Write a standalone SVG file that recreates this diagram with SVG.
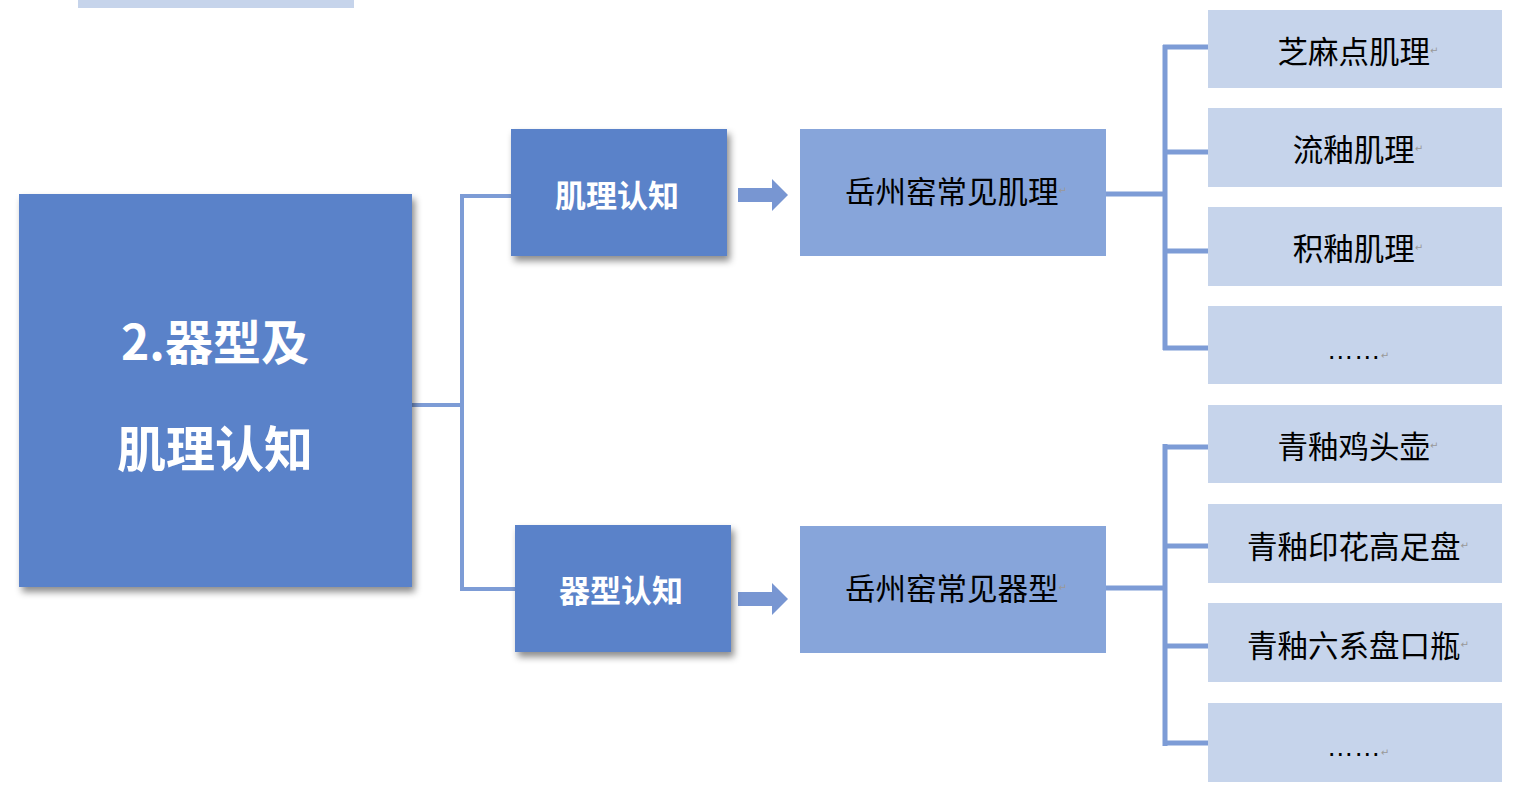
<svg xmlns="http://www.w3.org/2000/svg" width="1516" height="809" viewBox="0 0 1516 809">
<defs>
<filter id="sh" x="-10%" y="-10%" width="125%" height="130%">
<feDropShadow dx="3" dy="5" stdDeviation="3.5" flood-color="#000" flood-opacity="0.45"/>
</filter>
<style>
.main{fill:#5a82c9;}
.mid{fill:#87a5da;}
.leaf{fill:#c6d4eb;}
.conn{fill:none;stroke:#7d9cd6;stroke-width:4;}
.connR{fill:none;stroke:#7d9cd6;stroke-width:5;}
.arrow{fill:#7896d2;}
.wt{font-family:"Noto Sans CJK SC","Noto Sans",sans-serif;font-weight:bold;fill:#fff;text-anchor:middle;dominant-baseline:central;}
.bt{font-family:"Noto Sans CJK SC","Noto Sans",sans-serif;font-size:30.5px;fill:#000;text-anchor:middle;dominant-baseline:central;}
.dots{font-family:"Liberation Sans",sans-serif;font-size:27px;fill:#000;text-anchor:middle;}
.rm{font-family:"DejaVu Sans",sans-serif;font-size:10px;fill:#999;font-weight:normal;}
</style>
</defs>
<rect x="0" y="0" width="1516" height="809" fill="#fff"/>
<rect x="78" y="0" width="276" height="8" class="leaf"/>

<g id="connectors">
<path class="conn" d="M412 405 H462 M462 196 V590 M460 196 H512 M460 589 H516"/>
<path class="connR" d="M1106 194 H1165 M1165 45 V350 M1163 47 H1209 M1163 152 H1209 M1163 251 H1209 M1163 348 H1209"/>
<path class="connR" d="M1106 588 H1165 M1165 444 V746 M1163 447 H1209 M1163 546 H1209 M1163 646 H1209 M1163 743 H1209"/>
<path class="arrow" d="M738 188 H772 V179 L788 195 L772 211 V202 H738 Z"/>
<path class="arrow" d="M738 592 H772 V583 L788 599 L772 615 V606 H738 Z"/>
</g>

<g id="root">
<rect x="19" y="194" width="393" height="393" class="main" filter="url(#sh)"/>
<text class="wt" x="215" y="339" font-size="48">2.器型及</text>
<text class="wt" x="215" y="445" font-size="49">肌理认知</text>
</g>

<g id="n-jili">
<rect x="511" y="129" width="216" height="127" class="main" filter="url(#sh)"/>
<text class="wt" x="617" y="193" font-size="31">肌理认知</text>
</g>
<g id="n-qixing">
<rect x="515" y="525" width="216" height="127" class="main" filter="url(#sh)"/>
<text class="wt" x="621" y="588" font-size="31">器型认知</text>
</g>

<g id="n-yz-jili">
<rect x="800" y="129" width="306" height="127" class="mid"/>
<text class="bt" x="956" y="190">岳州窑常见肌理<tspan class="rm">↵</tspan></text>
</g>
<g id="n-yz-qixing">
<rect x="800" y="526" width="306" height="127" class="mid"/>
<text class="bt" x="956" y="587">岳州窑常见器型<tspan class="rm">↵</tspan></text>
</g>

<g id="l1"><rect x="1208" y="10" width="294" height="78" class="leaf"/><text class="bt" x="1358" y="50">芝麻点肌理<tspan class="rm">↵</tspan></text></g>
<g id="l2"><rect x="1208" y="108" width="294" height="79" class="leaf"/><text class="bt" x="1358" y="148">流釉肌理<tspan class="rm">↵</tspan></text></g>
<g id="l3"><rect x="1208" y="207" width="294" height="79" class="leaf"/><text class="bt" x="1358" y="247">积釉肌理<tspan class="rm">↵</tspan></text></g>
<g id="l4"><rect x="1208" y="306" width="294" height="78" class="leaf"/><text class="dots" x="1358" y="359">……<tspan class="rm">↵</tspan></text></g>

<g id="l5"><rect x="1208" y="405" width="294" height="78" class="leaf"/><text class="bt" x="1358" y="445">青釉鸡头壶<tspan class="rm">↵</tspan></text></g>
<g id="l6"><rect x="1208" y="504" width="294" height="79" class="leaf"/><text class="bt" x="1358" y="545">青釉印花高足盘<tspan class="rm">↵</tspan></text></g>
<g id="l7"><rect x="1208" y="603" width="294" height="79" class="leaf"/><text class="bt" x="1358" y="644">青釉六系盘口瓶<tspan class="rm">↵</tspan></text></g>
<g id="l8"><rect x="1208" y="703" width="294" height="79" class="leaf"/><text class="dots" x="1358" y="756">……<tspan class="rm">↵</tspan></text></g>
</svg>
